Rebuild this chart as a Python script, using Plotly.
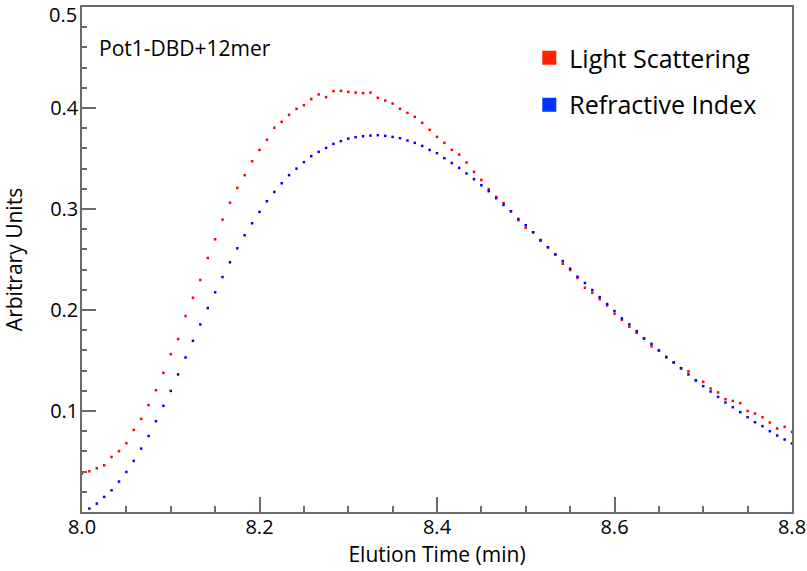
import plotly.graph_objects as go

# Elution time grid (min), one sample every 0.5 s
time_min = [
    8.0000, 8.0083, 8.0167, 8.0250, 8.0333, 8.0417, 8.0500, 8.0583, 8.0667, 8.0750, 8.0833, 8.0917,
    8.1000, 8.1083, 8.1167, 8.1250, 8.1333, 8.1417, 8.1500, 8.1583, 8.1667, 8.1750, 8.1833, 8.1917,
    8.2000, 8.2083, 8.2167, 8.2250, 8.2333, 8.2417, 8.2500, 8.2583, 8.2667, 8.2750, 8.2833, 8.2917,
    8.3000, 8.3083, 8.3167, 8.3250, 8.3333, 8.3417, 8.3500, 8.3583, 8.3667, 8.3750, 8.3833, 8.3917,
    8.4000, 8.4083, 8.4167, 8.4250, 8.4333, 8.4417, 8.4500, 8.4583, 8.4667, 8.4750, 8.4833, 8.4917,
    8.5000, 8.5083, 8.5167, 8.5250, 8.5333, 8.5417, 8.5500, 8.5583, 8.5667, 8.5750, 8.5833, 8.5917,
    8.6000, 8.6083, 8.6167, 8.6250, 8.6333, 8.6417, 8.6500, 8.6583, 8.6667, 8.6750, 8.6833, 8.6917,
    8.7000, 8.7083, 8.7167, 8.7250, 8.7333, 8.7417, 8.7500, 8.7583, 8.7667, 8.7750, 8.7833, 8.7917,
    8.8000,
]

# Light scattering signal (97 samples, 8.0 .. 8.8 min)
light_scattering = [
    0.0381, 0.0403, 0.0433, 0.0463, 0.0545, 0.0602, 0.0681, 0.0813, 0.0922, 0.1058, 0.1206, 0.1378,
    0.1563, 0.1712, 0.1940, 0.2121, 0.2297, 0.2515, 0.2700, 0.2895, 0.3063, 0.3209, 0.3335, 0.3473,
    0.3585, 0.3685, 0.3804, 0.3863, 0.3932, 0.3992, 0.4028, 0.4088, 0.4134, 0.4108, 0.4167, 0.4170,
    0.4160, 0.4153, 0.4147, 0.4153, 0.4101, 0.4074, 0.4044, 0.3992, 0.3952, 0.3913, 0.3853, 0.3784,
    0.3714, 0.3655, 0.3585, 0.3539, 0.3460, 0.3368, 0.3288, 0.3196, 0.3120, 0.3060, 0.2978, 0.2889,
    0.2815, 0.2770, 0.2686, 0.2621, 0.2551, 0.2458, 0.2396, 0.2317, 0.2220, 0.2171, 0.2108, 0.2045,
    0.1963, 0.1903, 0.1834, 0.1774, 0.1719, 0.1640, 0.1600, 0.1530, 0.1481, 0.1421, 0.1392, 0.1303,
    0.1289, 0.1223, 0.1184, 0.1117, 0.1100, 0.1078, 0.1001, 0.0975, 0.0939, 0.0886, 0.0827, 0.0843,
    0.0793,
]

# Refractive index signal (96 samples, 8.0083 .. 8.8 min)
refractive_index = [
    0.0034, 0.0083, 0.0149, 0.0215, 0.0301, 0.0397, 0.0506, 0.0628, 0.0753, 0.0899, 0.1051,
    0.1199, 0.1362, 0.1530, 0.1695, 0.1857, 0.2019, 0.2175, 0.2326, 0.2472, 0.2611, 0.2740,
    0.2859, 0.2972, 0.3077, 0.3169, 0.3255, 0.3335, 0.3400, 0.3464, 0.3523, 0.3566, 0.3605,
    0.3645, 0.3672, 0.3697, 0.3711, 0.3721, 0.3727, 0.3731, 0.3724, 0.3714, 0.3701, 0.3678,
    0.3655, 0.3625, 0.3585, 0.3553, 0.3503, 0.3455, 0.3407, 0.3352, 0.3295, 0.3235, 0.3176,
    0.3107, 0.3040, 0.2978, 0.2901, 0.2839, 0.2770, 0.2693, 0.2621, 0.2551, 0.2485, 0.2409,
    0.2330, 0.2267, 0.2198, 0.2128, 0.2059, 0.1990, 0.1917, 0.1858, 0.1791, 0.1719, 0.1665,
    0.1600, 0.1536, 0.1481, 0.1424, 0.1362, 0.1303, 0.1246, 0.1193, 0.1140, 0.1084, 0.1038,
    0.0988, 0.0939, 0.0889, 0.0850, 0.0800, 0.0757, 0.0718, 0.0678,
]
time_ri = time_min[1:]

x_ticks = [8.0, 8.2, 8.4, 8.6, 8.8]
x_tick_text = ["8.0", "8.2", "8.4", "8.6", "8.8"]
y_ticks = [0.1, 0.2, 0.3, 0.4]
y_tick_text = ["0.1", "0.2", "0.3", "0.4"]
y_top = 0.5
y_top_text = "0.5"

FONT = "Open Sans"
AXIS_COLOR = "#6a6a6a"

fig = go.Figure()
fig.add_trace(go.Scatter(
    x=time_min, y=light_scattering, mode="markers", showlegend=False,
    marker=dict(symbol="square", size=2.5, color="#ff0000", line=dict(width=0)),
))
fig.add_trace(go.Scatter(
    x=time_ri, y=refractive_index, mode="markers", showlegend=False,
    marker=dict(symbol="square", size=2.5, color="#0000ff", line=dict(width=0)),
))
# legend entries
fig.add_trace(go.Scatter(
    x=[None], y=[None], mode="markers", name="Light Scattering", legend="legend",
    marker=dict(symbol="square", size=14, color="#ff2200", line=dict(width=0)),
))
fig.add_trace(go.Scatter(
    x=[None], y=[None], mode="markers", name="Refractive Index", legend="legend2",
    marker=dict(symbol="square", size=14, color="#0033ff", line=dict(width=0)),
))

legend_common = dict(
    xanchor="left", yanchor="middle", bgcolor="rgba(0,0,0,0)", borderwidth=0,
    font=dict(family=FONT, size=25, color="#000000"),
)

fig.update_layout(
    width=807, height=571,
    margin=dict(l=82, r=15, t=7, b=59),
    paper_bgcolor="white", plot_bgcolor="white",
    font=dict(family=FONT, color="#000000"),
    legend=dict(x=0.63, y=0.899, **legend_common),
    legend2=dict(x=0.63, y=0.806, **legend_common),
    annotations=[
        dict(
            text="Pot1-DBD+12mer", x=0.021, y=0.919, xref="paper", yref="paper",
            xanchor="left", yanchor="middle", showarrow=False,
            font=dict(family=FONT, size=21, color="#000000"),
        ),
        # top y tick label, nudged down so it stays inside the page
        dict(
            text=y_top_text, x=0, y=y_top, xref="paper", yref="y",
            xanchor="right", yanchor="middle", xshift=-4, yshift=-7, showarrow=False,
            borderpad=0, font=dict(family=FONT, size=20, color="#000000"),
        ),
    ],
)

fig.update_xaxes(
    range=[8.0, 8.8], tickvals=x_ticks, ticktext=x_tick_text,
    ticks="inside", ticklen=15, tickwidth=1.5, tickcolor=AXIS_COLOR,
    minor=dict(dtick=0.05, tick0=8.0, ticks="inside", ticklen=6, tickwidth=1.5, tickcolor=AXIS_COLOR),
    showline=True, linecolor=AXIS_COLOR, linewidth=1.5, mirror=True,
    showgrid=False, zeroline=False, automargin=False,
    ticklabeloverflow="allow", ticklabelstandoff=-4,
    tickfont=dict(family=FONT, size=20, color="#000000"),
    title=dict(text="Elution Time (min)", font=dict(family=FONT, size=21, color="#000000"), standoff=0),
)
fig.update_yaxes(
    range=[0.0, 0.5], tickvals=y_ticks, ticktext=y_tick_text,
    ticks="inside", ticklen=14, tickwidth=1.5, tickcolor=AXIS_COLOR,
    minor=dict(dtick=0.02, tick0=0.0, ticks="inside", ticklen=5, tickwidth=1.5, tickcolor=AXIS_COLOR),
    showline=True, linecolor=AXIS_COLOR, linewidth=1.5, mirror=True,
    showgrid=False, zeroline=False, automargin=False,
    ticklabeloverflow="allow", ticklabelstandoff=-2,
    tickfont=dict(family=FONT, size=20, color="#000000"),
    title=dict(text="Arbitrary Units", font=dict(family=FONT, size=21, color="#000000"), standoff=22),
)

fig.write_html(
    "out.html",
    config={"displayModeBar": False},
    post_script="document.body.style.margin='0';document.body.style.overflow='hidden';",
)
